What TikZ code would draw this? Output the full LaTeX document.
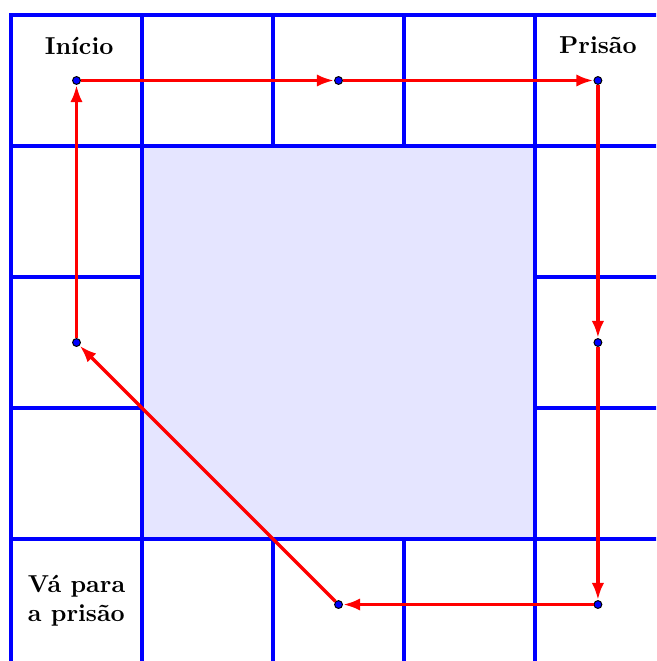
\documentclass[tikz,border=0pt]{standalone}
\usepackage{tikz}
\usetikzlibrary{arrows.meta}

\begin{document}
\begin{tikzpicture}[
    x=1.88cm, y=1.88cm,
    grade/.style={draw=blue, line width=1.4pt},
    ponto/.style={circle, draw=black, fill=blue, inner sep=0pt, minimum size=3.2pt, line width=0.4pt},
    seta/.style={-{Latex[length=7pt,width=5pt]}, draw=red, line width=1.4pt},
    rotulo/.style={font=\bfseries, align=left}
  ]
    \useasboundingbox (-0.084,0.069) rectangle (4.924,5.1145);
    \clip (-0.084,0.069) rectangle (4.924,5.1145);
    \fill[blue!10] (1,1) rectangle (4,4);
    % tabuleiro
    \draw[grade] (0,0) -- (0,5) -- (5,5);
    \draw[grade] (0,4) -- (5,4);
    \draw[grade] (0,1) -- (5,1);
    \draw[grade] (1,0) -- (1,5);
    \draw[grade] (4,0) -- (4,5);
    \foreach \i in {2,3} {
      \draw[grade] (\i,4) -- (\i,5);
      \draw[grade] (\i,0) -- (\i,1);
      \draw[grade] (0,\i) -- (1,\i);
      \draw[grade] (4,\i) -- (5,\i);
    }
    % casas
    \node[ponto] (inicio) at (0.5,4.5) {};
    \node[ponto] (topo) at (2.5,4.5) {};
    \node[ponto] (prisao) at (4.48,4.5) {};
    \node[ponto] (direita) at (4.48,2.5) {};
    \node[ponto] (canto) at (4.48,0.5) {};
    \node[ponto] (base) at (2.5,0.5) {};
    \node[ponto] (esquerda) at (0.5,2.5) {};
    \node[rotulo] (linicio) at (0.52,4.76) {Início};
    \node[rotulo] (lprisao) at (4.48,4.77) {Prisão};
    \node[rotulo] (lvapara) at (0.5,0.53) {Vá para\\a prisão};
    % percurso
    \draw[seta] (inicio) -- (topo);
    \draw[seta] (topo) -- (prisao);
    \draw[seta] (prisao) -- (direita);
    \draw[seta] (direita) -- (canto);
    \draw[seta] (canto) -- (base);
    \draw[seta] (base) -- (esquerda);
    \draw[seta] (esquerda) -- (inicio);
  \end{tikzpicture}
\end{document}
